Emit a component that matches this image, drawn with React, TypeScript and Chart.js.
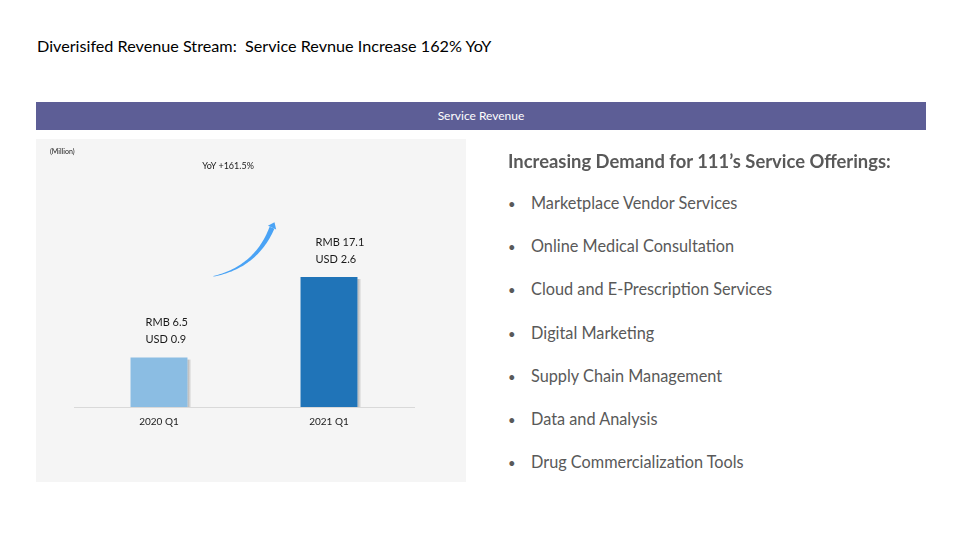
import React, { useEffect, useRef } from "react";
import { Chart, registerables } from "chart.js";

Chart.register(...registerables);

const categories = ["2020 Q1", "2021 Q1"];
const rmbValues = [6.5, 17.1];
const usdValues = [0.9, 2.6];
const barColors = ["#8bbde3", "#2074b8"];
const yoyLabel = "YoY +161.5%";
const unitLabel = "(Million)";
const pageTitle = "Diverisifed Revenue Stream:  Service Revnue Increase 162% YoY";
const bannerTitle = "Service Revenue";
const heading = "Increasing Demand for 111\u2019s Service Offerings:";
const bullets = [
  "Marketplace Vendor Services",
  "Online Medical Consultation",
  "Cloud and E-Prescription Services",
  "Digital Marketing",
  "Supply Chain Management",
  "Data and Analysis",
  "Drug Commercialization Tools",
];

const FONT = "Lato, 'Open Sans', sans-serif";

const labelPlugin = {
  id: "barLabels",
  afterDatasetsDraw(chart: any) {
    const ctx = chart.ctx;
    const meta = chart.getDatasetMeta(0);
    ctx.save();
    ctx.font = `11px ${FONT}`;
    ctx.fillStyle = "#1a1a1a";
    ctx.textAlign = "left";
    ctx.textBaseline = "middle";
    meta.data.forEach((bar: any, i: number) => {
      const left = bar.x - bar.width / 2 + 15;
      ctx.fillText(`RMB ${rmbValues[i]}`, left, bar.y - 35);
      ctx.fillText(`USD ${usdValues[i]}`, left, bar.y - 18);
    });
    ctx.restore();
  },
};

const shadowPlugin = {
  id: "barShadow",
  beforeDatasetsDraw(chart: any) {
    const ctx = chart.ctx;
    const meta = chart.getDatasetMeta(0);
    ctx.save();
    meta.data.forEach((bar: any) => {
      const right = bar.x + bar.width / 2;
      const g = ctx.createLinearGradient(right, 0, right + 4, 0);
      g.addColorStop(0, "rgba(120,120,120,0.55)");
      g.addColorStop(1, "rgba(120,120,120,0)");
      ctx.fillStyle = g;
      ctx.fillRect(right, bar.y + 2, 4, bar.base - bar.y - 2);
    });
    ctx.restore();
  },
};

const arrowPlugin = {
  id: "growthArrow",
  afterDatasetsDraw(chart: any) {
    const ctx = chart.ctx;
    const xs = chart.scales.x;
    const ys = chart.scales.y;
    const x0 = xs.getPixelForValue(0);
    const x1 = xs.getPixelForValue(1);
    const sx = x0 + (x1 - x0) * 0.32;
    const ex = x0 + (x1 - x0) * 0.665;
    const sy = ys.getPixelForValue(17.2);
    const ey = ys.getPixelForValue(23.6);
    const cx = x0 + (x1 - x0) * 0.57;
    const cy = ys.getPixelForValue(18.4);
    const pts: { x: number; y: number; w: number }[] = [];
    const N = 40;
    for (let i = 0; i <= N; i++) {
      const t = i / N;
      const x = (1 - t) * (1 - t) * sx + 2 * (1 - t) * t * cx + t * t * ex;
      const y = (1 - t) * (1 - t) * sy + 2 * (1 - t) * t * cy + t * t * ey;
      pts.push({ x, y, w: 0.3 + 2.3 * t });
    }
    const left: { x: number; y: number }[] = [];
    const right: { x: number; y: number }[] = [];
    for (let i = 0; i < pts.length; i++) {
      const a = pts[Math.max(0, i - 1)];
      const b = pts[Math.min(pts.length - 1, i + 1)];
      const dx = b.x - a.x;
      const dy = b.y - a.y;
      const len = Math.hypot(dx, dy) || 1;
      const nx = -dy / len;
      const ny = dx / len;
      left.push({ x: pts[i].x + nx * pts[i].w, y: pts[i].y + ny * pts[i].w });
      right.push({ x: pts[i].x - nx * pts[i].w, y: pts[i].y - ny * pts[i].w });
    }
    ctx.save();
    ctx.fillStyle = "#4aa3f5";
    ctx.beginPath();
    ctx.moveTo(left[0].x, left[0].y);
    left.forEach((p) => ctx.lineTo(p.x, p.y));
    for (let i = right.length - 1; i >= 0; i--) ctx.lineTo(right[i].x, right[i].y);
    ctx.closePath();
    ctx.fill();
    const end = pts[pts.length - 1];
    const prev = pts[pts.length - 4];
    const dx = end.x - prev.x;
    const dy = end.y - prev.y;
    const len = Math.hypot(dx, dy) || 1;
    const ux = dx / len;
    const uy = dy / len;
    const tipX = end.x + ux * 6;
    const tipY = end.y + uy * 6;
    ctx.beginPath();
    ctx.moveTo(tipX, tipY);
    ctx.lineTo(end.x - uy * 4.5, end.y + ux * 4.5);
    ctx.lineTo(end.x + uy * 4.5, end.y - ux * 4.5);
    ctx.closePath();
    ctx.fill();
    ctx.restore();
  },
};

function RevenueChart() {
  const ref = useRef<HTMLCanvasElement>(null);
  useEffect(() => {
    if (!ref.current) return;
    const chart = new Chart(ref.current, {
      type: "bar",
      data: {
        labels: categories,
        datasets: [
          {
            data: rmbValues,
            backgroundColor: barColors,
            borderWidth: 0,
            categoryPercentage: 1,
            barPercentage: 0.335,
          },
        ],
      },
      options: {
        animation: false,
        responsive: false,
        maintainAspectRatio: false,
        layout: { padding: { left: 38, right: 52, top: 40, bottom: 45 } },
        plugins: { legend: { display: false }, tooltip: { enabled: false } },
        scales: {
          x: {
            grid: { display: false, drawTicks: false },
            border: { display: true, color: "#d9d9d9", width: 1 },
            ticks: { color: "#1a1a1a", font: { family: FONT, size: 10 }, padding: 9 },
          },
          y: {
            display: false,
            min: 0,
            max: 30,
          },
        },
      },
      plugins: [shadowPlugin, labelPlugin, arrowPlugin],
    });
    return () => chart.destroy();
  }, []);
  return <canvas ref={ref} width={430} height={343} style={{ display: "block" }} />;
}

export default function App() {
  return (
    <div
      style={{
        position: "absolute",
        left: 0,
        top: 0,
        width: 960,
        height: 540,
        background: "#ffffff",
        overflow: "hidden",
        fontFamily: FONT,
      }}
    >
      <div
        style={{
          position: "absolute",
          left: 37,
          top: 35,
          fontSize: 16.2,
          color: "#000",
          whiteSpace: "pre",
          lineHeight: "22px",
        }}
      >
        {pageTitle}
      </div>
      <div
        style={{
          position: "absolute",
          left: 36,
          top: 102,
          width: 890,
          height: 28,
          background: "#5d5e96",
          color: "#fff",
          fontSize: 12,
          lineHeight: "28px",
          textAlign: "center",
        }}
      >
        {bannerTitle}
      </div>
      <div
        style={{
          position: "absolute",
          left: 36,
          top: 139,
          width: 430,
          height: 343,
          background: "#f5f5f5",
        }}
      >
        <RevenueChart />
        <div style={{ position: "absolute", left: 14, top: 8, fontSize: 7, color: "#1a1a1a" }}>{unitLabel}</div>
        <div
          style={{
            position: "absolute",
            left: 142,
            width: 100,
            top: 21,
            fontSize: 9,
            color: "#1a1a1a",
            textAlign: "center",
          }}
        >
          {yoyLabel}
        </div>
      </div>
      <div
        style={{
          position: "absolute",
          left: 508,
          top: 149,
          fontSize: 18.4,
          fontWeight: 700,
          color: "#595959",
          lineHeight: "24px",
          whiteSpace: "nowrap",
        }}
      >
        {heading}
      </div>
      {bullets.map((b, i) => (
        <div
          key={b}
          style={{
            position: "absolute",
            left: 508,
            top: 192 + i * 43.2,
            fontSize: 16.3,
            color: "#595959",
            lineHeight: "22px",
            whiteSpace: "nowrap",
          }}
        >
          <span style={{ display: "inline-block", width: 23, fontSize: 13 }}>•</span>
          {b}
        </div>
      ))}
    </div>
  );
}
